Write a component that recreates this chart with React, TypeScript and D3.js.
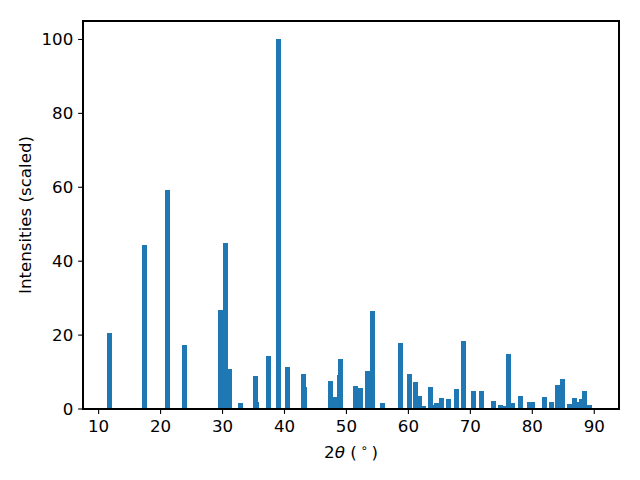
import React from "react";
import * as d3 from "d3";

const positions = [11.81, 17.45, 21.16, 23.9, 29.71, 30.52, 31.16, 32.85, 35.35, 35.52, 36.16, 37.45, 39.06, 40.52, 43.1, 43.26, 47.45, 48.1, 48.9, 49.06, 51.48, 52.29, 53.42, 54.23, 55.84, 58.74, 60.19, 61.16, 61.81, 62.45, 63.58, 64.23, 64.55, 65.35, 66.48, 66.97, 67.77, 68.9, 70.52, 71.81, 73.74, 74.87, 75.35, 76.16, 76.81, 77.29, 78.1, 79.55, 80.03, 81.97, 83.1, 84.06, 84.87, 86.0, 86.8, 87.13, 87.94, 88.42, 89.23, 89.66];
const intensities = [20.6, 44.4, 59.3, 17.3, 26.8, 44.9, 10.8, 1.6, 8.9, 1.9, 0.3, 14.3, 100, 11.4, 9.5, 6.0, 7.6, 3.2, 9.2, 13.5, 6.2, 5.7, 10.3, 26.5, 1.6, 17.9, 9.5, 7.3, 3.5, 0.8, 6.0, 1.1, 1.6, 3.0, 2.7, 0.3, 5.4, 18.4, 4.9, 4.9, 2.2, 1.1, 0.8, 14.9, 1.6, 0.3, 3.5, 1.9, 1.9, 3.2, 1.9, 6.5, 8.1, 1.4, 3.0, 1.9, 2.7, 4.9, 1.1, 0.3];
const xTicks = [10, 20, 30, 40, 50, 60, 70, 80, 90];
const yTicks = [0, 20, 40, 60, 80, 100];
const barWidth = 0.8;

const W = 640, H = 480;
const M = { left: 83, right: 21, top: 21, bottom: 71 };
const FONT = "DejaVu Sans, sans-serif";
const FS = 16.67;

export default function App() {
  const lo = (d3.min(positions) as number) - barWidth / 2;
  const hi = (d3.max(positions) as number) + barWidth / 2;
  const pad = (hi - lo) * 0.05;
  const x = d3.scaleLinear().domain([lo - pad, hi + pad]).range([M.left, W - M.right]);
  const y = d3.scaleLinear().domain([0, 105]).range([H - M.bottom, M.top]);
  const x0 = M.left, x1 = W - M.right, y0 = H - M.bottom, y1 = M.top;
  return (
    <svg width={W} height={H} style={{ position: "absolute", left: 0, top: 0, background: "#fff" }} fontFamily={FONT}>
      <rect x={0} y={0} width={W} height={H} fill="#fff" />
      <g shapeRendering="crispEdges">
        {positions.map((p, i) => (
          <rect key={i} x={x(p - barWidth / 2)} width={x(p + barWidth / 2) - x(p - barWidth / 2)}
            y={y(intensities[i])} height={y(0) - y(intensities[i])} fill="#1f77b4" />
        ))}
      </g>
      <rect x={x0} y={y1} width={x1 - x0} height={y0 - y1} fill="none" stroke="#000" strokeWidth={1.1} shapeRendering="crispEdges" />
      {xTicks.map((t) => (
        <g key={t}>
          <line x1={x(t)} x2={x(t)} y1={y0} y2={y0 + 4.9} stroke="#000" strokeWidth={1.1} />
          <text x={x(t)} y={431.5} textAnchor="middle" fontSize={FS} fill="#000">{t}</text>
        </g>
      ))}
      {yTicks.map((t) => (
        <g key={t}>
          <line x1={x0 - 4.9} x2={x0} y1={y(t)} y2={y(t)} stroke="#000" strokeWidth={1.1} />
          <text x={x0 - 9.7} y={y(t)} dy="0.36em" textAnchor="end" fontSize={FS} fill="#000">{t}</text>
        </g>
      ))}
      <text x={(x0 + x1) / 2} y={458} textAnchor="middle" fontSize={FS} fill="#000">
        2<tspan fontStyle="italic">θ</tspan> (<tspan dy={-6} fontSize={FS * 0.7}> ∘ </tspan><tspan dy={6}>)</tspan>
      </text>
      <text transform={`translate(${30.5},${(y0 + y1) / 2}) rotate(-90)`} textAnchor="middle" fontSize={FS} fill="#000">
        Intensities (scaled)
      </text>
    </svg>
  );
}
